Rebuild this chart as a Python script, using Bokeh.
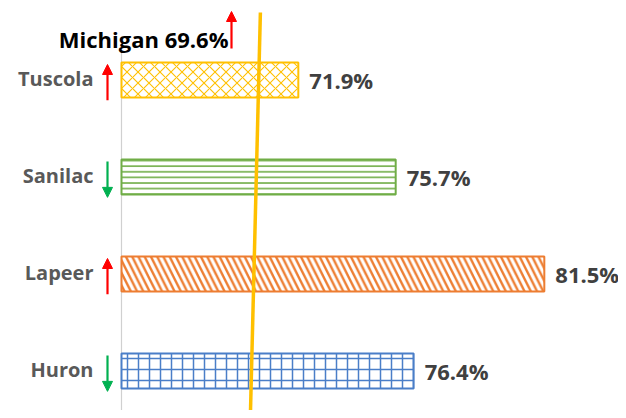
from bokeh.plotting import figure
from bokeh.models import Range1d, Arrow, NormalHead, ColumnDataSource
from bokeh.core.properties import value
from bokeh.embed import file_html
from bokeh.resources import INLINE

# ---- data ----
counties = ["Huron", "Lapeer", "Sanilac", "Tuscola"]
rates = [76.4, 81.5, 75.7, 71.9]
trends = ["down", "up", "down", "up"]
michigan_rate = 69.6
michigan_trend = "up"
michigan_line_x = [70.42, 70.03]   # marker line as drawn in the picture (top, bottom)
axis_start = 65.0

# ---- styles ----
colors = ["#4A7EC8", "#ED7D31", "#70AD47", "#FFC000"]
patterns = ["+", "\\", "-", "x"]
scales = [11.0, 12.5, 5.6, 11.0]
weights = [1.5, 2.4, 1.6, 1.1]
FONT = "Open Sans"

PX_X = 25.625   # px per percent
PX_Y = 97.0     # px per category
W, H = 618, 410
AX_PX = 121     # pixel position of the value axis
Y0_PX = 370.5   # pixel position of first category
x0 = axis_start - AX_PX / PX_X
y_top = Y0_PX / PX_Y
y_bot = -(H - Y0_PX) / PX_Y


def py(pix):
    return (Y0_PX - pix) / PX_Y


p = figure(width=W, height=H, output_backend="svg", toolbar_location=None,
           x_range=Range1d(x0, x0 + W / PX_X), y_range=Range1d(y_bot, y_top),
           min_border=0, outline_line_color=None)
p.axis.visible = False
p.grid.visible = False
p.background_fill_color = "white"

idx = list(range(len(counties)))
src = ColumnDataSource(dict(y=idx, county=counties, rate=rates, color=colors,
                            pattern=patterns, scale=scales, weight=weights,
                            label=[f"{r:.1f}%" for r in rates],
                            left=[axis_start] * len(rates)))

# axis line
p.segment(x0=[axis_start], y0=[py(50)], x1=[axis_start], y1=[y_bot - 1],
          line_color="#D0D0D0", line_width=1.2)

p.hbar(y="y", left="left", right="rate", height=0.36, source=src,
       fill_color="white", line_color="color", line_width=2,
       hatch_pattern="pattern", hatch_color="color", hatch_scale="scale",
       hatch_weight="weight")

# value labels
p.text(x="rate", y="y", text="label", source=src, x_offset=11, y_offset=0,
       text_font=value(FONT), text_font_style="bold", text_font_size="22px",
       text_color="#404040", text_baseline="middle", text_align="left")

# category labels
p.text(x="left", y="y", text="county", source=src, x_offset=-28, y_offset=-2,
       text_font=value(FONT), text_font_style="bold", text_font_size="20px",
       text_color="#595959", text_baseline="middle", text_align="right")

# trend arrows
ax = axis_start - 14 / PX_X
for i, t in zip(idx, trends):
    col = "#FF0000" if t == "up" else "#00B050"
    top, bot = i + 0.16, i - 0.21
    ys, ye = (bot, top) if t == "up" else (top, bot)
    p.add_layout(Arrow(end=NormalHead(size=10, fill_color=col, line_color=col),
                       x_start=ax, y_start=ys, x_end=ax, y_end=ye,
                       line_color=col, line_width=2.2))

# Michigan marker line
p.segment(x0=[michigan_line_x[0]], y0=[py(12)],
          x1=[michigan_line_x[1]], y1=[y_bot - 0.05],
          line_color="#FFC000", line_width=3.5)

# Michigan label and arrow
mx = axis_start + 110 / PX_X
mcol = "#FF0000" if michigan_trend == "up" else "#00B050"
p.add_layout(Arrow(end=NormalHead(size=10, fill_color=mcol, line_color=mcol),
                   x_start=mx, y_start=py(48), x_end=mx, y_end=py(11),
                   line_color=mcol, line_width=2.2))
p.text(x=[mx], y=[py(38)], text=[f"Michigan {michigan_rate:.1f}%"],
       x_offset=-3, text_font=value(FONT), text_font_style="bold",
       text_font_size="22px", text_color="#000000", text_baseline="middle",
       text_align="right")

open("out.html", "w").write(file_html(p, INLINE))
